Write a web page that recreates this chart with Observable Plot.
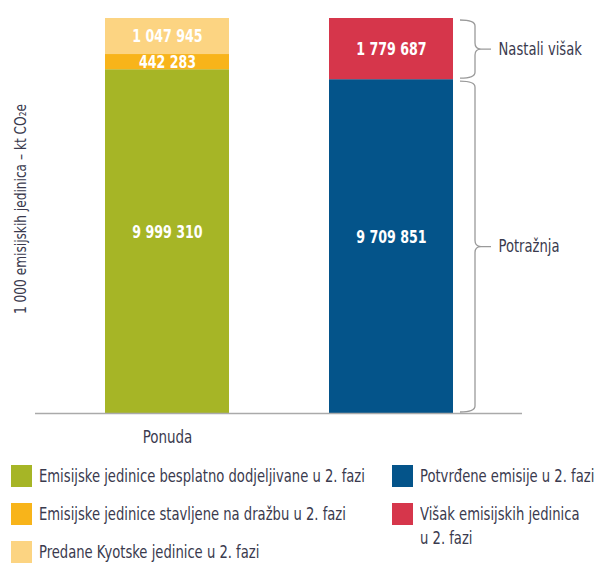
<!DOCTYPE html>
<html>
<head>
<meta charset="utf-8">
<script src="https://cdn.jsdelivr.net/npm/d3@7"></script>
<script src="https://cdn.jsdelivr.net/npm/@observablehq/plot@0.6"></script>
<style>
  html, body { margin: 0; padding: 0; background: #fff; }
  body { width: 596px; height: 563px; overflow: hidden; font-family: "DejaVu Sans Condensed", "DejaVu Sans", sans-serif; }
  #chart { position: relative; height: 450px; }
  #legend { position: relative; height: 113px; }
  .item { position: absolute; display: flex; align-items: flex-start; font-size: 17px; color: #3a3a4e; line-height: 24px; white-space: pre-line; }
  .sw { width: 21px; height: 22px; margin-right: 7px; flex: none; }
  .lt { transform: scaleX(0.86); transform-origin: 0 0; white-space: pre; margin-top: -1px; }
</style>
</head>
<body>
<div id="chart"></div>
<div id="legend"></div>
<script>
const categories = ["Ponuda", "Potražnja"];
const xTickLabels = ["Ponuda", ""];
const series = [
  "Emisijske jedinice besplatno dodjeljivane u 2. fazi",
  "Emisijske jedinice stavljene na dražbu u 2. fazi",
  "Predane Kyotske jedinice u 2. fazi",
  "Potvrđene emisije u 2. fazi",
  "Višak emisijskih jedinica u 2. fazi"
];
const legendLabels = [
  "Emisijske jedinice besplatno dodjeljivane u 2. fazi",
  "Emisijske jedinice stavljene na dražbu u 2. fazi",
  "Predane Kyotske jedinice u 2. fazi",
  "Potvrđene emisije u 2. fazi",
  "Višak emisijskih jedinica\nu 2. fazi"
];
const barOf = ["Ponuda", "Ponuda", "Ponuda", "Potražnja", "Potražnja"];
const values = [9999310, 442283, 1047945, 9709851, 1779687];
const colors = ["#a6b526", "#f8b41a", "#fcd482", "#04548a", "#d6364b"];
const bracketLabels = ["Nastali višak", "Potražnja"];
const yLabel = "1 000 emisijskih jedinica – kt CO₂e";

const fmt = v => d3.format(",")(v).replace(/,/g, " ");
const data = series.map((s, i) => ({series: s, bar: barOf[i], value: values[i], label: fmt(values[i])}));

const demand = values[3];
const total = values[3] + values[4];
const brackets = [
  {label: bracketLabels[0], y1: demand, y2: total},
  {label: bracketLabels[1], y1: 0, y2: demand}
];

const braceMark = (index, scales, vals, dims) => {
  const x = scales.scales ? scales.scales.x : null;
  const xf = scales.x;
  const bw = x && x.bandwidth != null ? x.bandwidth : (xf.bandwidth ? xf.bandwidth() : 0);
  const right = xf(categories[1]) + bw;
  const x0 = right + 7, xs = right + 22, xt = right + 28, xe = right + 38;
  const g = d3.create("svg:g").attr("fill", "none").attr("stroke", "#9a9a9a").attr("stroke-width", 1.3);
  for (const b of brackets) {
    const ya = scales.y(b.y2) + 2, yb = scales.y(b.y1) - 1;
    const ym = (ya + yb) / 2, r = 6;
    g.append("path").attr("d",
      `M${x0},${ya} Q${xs},${ya} ${xs},${ya + r} L${xs},${ym - r} Q${xs},${ym} ${xt},${ym} Q${xs},${ym} ${xs},${ym + r} L${xs},${yb - r} Q${xs},${yb} ${x0},${yb} M${xt},${ym} L${xe},${ym}`);
  }
  return g.node();
};

const big = d => d.value > 5e6;

const plot = Plot.plot({
  width: 596,
  height: 450,
  marginTop: 18,
  marginBottom: 37,
  marginLeft: 35,
  marginRight: 74,
  style: {fontFamily: "'DejaVu Sans Condensed', 'DejaVu Sans', sans-serif", fontSize: "15px", color: "#3a3a4e", background: "#fff"},
  x: {domain: categories, paddingInner: 0.447, paddingOuter: 0.31, label: null, tickSize: 0, tickPadding: 17, tickFormat: (d) => xTickLabels[categories.indexOf(d)]},
  y: {domain: [0, total], axis: null},
  color: {domain: series, range: colors},
  marks: [
    Plot.barY(data, {x: "bar", y: "value", fill: "series", order: null}),
    Plot.ruleY([0], {stroke: "#aaaaaa", strokeWidth: 1.3}),
    Plot.text(data, Plot.stackY({x: "bar", y: "value", z: "series", order: null, text: d => big(d) ? "" : d.label, fill: "white", fontWeight: "bold", fontSize: 18, ariaDescription: "values"})),
    Plot.text(data, Plot.stackY({x: "bar", y: "value", z: "series", order: null, text: d => big(d) ? d.label : "", dy: -9, fill: "white", fontWeight: "bold", fontSize: 18, ariaDescription: "values"})),
    Plot.text([yLabel], {frameAnchor: "left", textAnchor: "middle", rotate: -90, dx: -15, dy: -7, fontSize: 16, fill: "#3a3a4e", ariaDescription: "ylabel"}),
    Plot.text(brackets, {y: d => (d.y1 + d.y2) / 2, text: "label", frameAnchor: "right", textAnchor: "start", dx: -24, fontSize: 17, fill: "#3a3a4e", ariaDescription: "brlabel"}),
    braceMark
  ]
});
document.getElementById("chart").append(plot);

// condense text to mimic the narrow typeface of the original
const svg = d3.select(plot);
svg.selectAll("g[aria-description='values'] text").each(function() {
  const L = this.getComputedTextLength();
  if (L > 0) { this.setAttribute("textLength", (L * 0.78).toFixed(1)); this.setAttribute("lengthAdjust", "spacingAndGlyphs"); }
});
svg.selectAll("g[aria-description='ylabel'] text").each(function() {
  this.setAttribute("textLength", 210); this.setAttribute("lengthAdjust", "spacingAndGlyphs");
});
svg.selectAll("g[aria-description='brlabel'] text").each(function() {
  const L = this.getComputedTextLength();
  this.setAttribute("textLength", (L * 0.86).toFixed(1)); this.setAttribute("lengthAdjust", "spacingAndGlyphs");
});
svg.selectAll("g[aria-label='x-axis tick label'] text, g[aria-label='x-axis'] text").each(function() {
  this.setAttribute("font-size", "17");
  const L = this.getComputedTextLength();
  if (L > 0) { this.setAttribute("textLength", (L * 0.88).toFixed(1)); this.setAttribute("lengthAdjust", "spacingAndGlyphs"); }
});

// legend
const pos = [
  {left: 11, top: 15}, {left: 11, top: 53}, {left: 11, top: 91},
  {left: 392, top: 15}, {left: 392, top: 53}
];
const legend = d3.select("#legend");
series.forEach((s, i) => {
  const it = legend.append("div").attr("class", "item").style("left", pos[i].left + "px").style("top", pos[i].top + "px");
  it.append("div").attr("class", "sw").style("background", colors[i]);
  it.append("div").attr("class", "lt").text(legendLabels[i]);
});
</script>
</body>
</html>
